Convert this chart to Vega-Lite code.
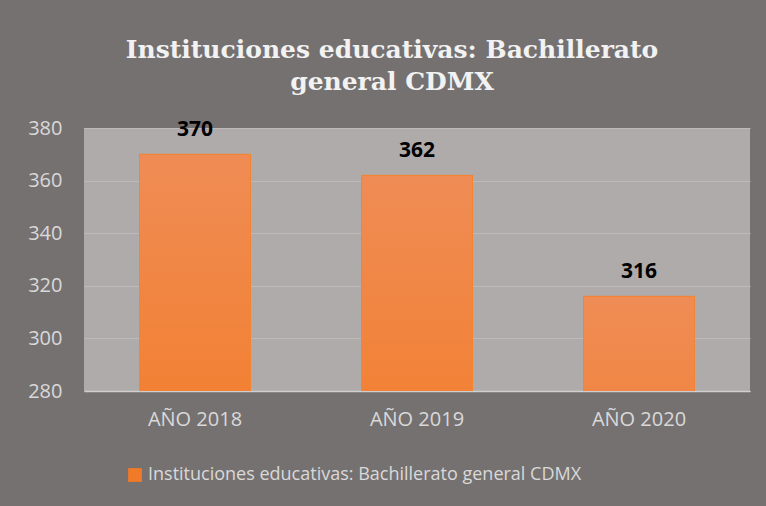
{
  "$schema": "https://vega.github.io/schema/vega-lite/v6.json",
  "autosize": {"type": "none"},
  "width": 666,
  "height": 263,
  "padding": {"left": 84, "top": 128, "right": 16, "bottom": 115},
  "background": "#767171",
  "title": {
    "text": ["Instituciones educativas: Bachillerato", "general CDMX"],
    "font": "DejaVu Serif",
    "fontWeight": "bold",
    "fontSize": 25,
    "lineHeight": 32,
    "color": "#F2F2F2",
    "anchor": "middle",
    "frame": "group",
    "dx": -25,
    "offset": 23
  },
  "data": {
    "values": [
      {"anio": "AÑO 2018", "valor": 370, "serie": "Instituciones educativas: Bachillerato general CDMX"},
      {"anio": "AÑO 2019", "valor": 362, "serie": "Instituciones educativas: Bachillerato general CDMX"},
      {"anio": "AÑO 2020", "valor": 316, "serie": "Instituciones educativas: Bachillerato general CDMX"}
    ]
  },
  "encoding": {
    "x": {
      "field": "anio",
      "type": "nominal",
      "sort": null,
      "scale": {"paddingInner": 0.5, "paddingOuter": 0.25},
      "axis": {
        "title": null,
        "labelAngle": 0,
        "labelFont": "Open Sans",
        "labelFontSize": 20,
        "labelColor": "#D9D9D9",
        "labelPadding": 18,
        "ticks": false,
        "domainColor": "#D0CECE",
        "domainWidth": 1.5
      }
    },
    "y": {
      "field": "valor",
      "type": "quantitative",
      "scale": {"domain": [280, 380], "zero": false, "nice": false},
      "axis": {
        "title": null,
        "values": [280, 300, 320, 340, 360, 380],
        "labelFont": "Open Sans",
        "labelFontSize": 20,
        "labelColor": "#D9D9D9",
        "labelPadding": 22,
        "ticks": false,
        "domain": false,
        "gridColor": "#BEBABA",
        "gridWidth": 1
      }
    }
  },
  "layer": [
    {
      "mark": {"type": "bar", "clip": true},
      "encoding": {
        "color": {
          "field": "serie",
          "type": "nominal",
          "scale": {"range": ["#F07A28"]},
          "legend": {
            "title": null,
            "orient": "none",
            "legendX": 42,
            "legendY": 338,
            "padding": 0,
            "symbolType": "square",
            "symbolSize": 190,
            "symbolStrokeWidth": 0,
            "labelFont": "Open Sans",
            "labelFontSize": 18,
            "labelColor": "#D9D9D9",
            "labelLimit": 700,
            "labelOffset": 4
          }
        }
      }
    },
    {
      "mark": {
        "type": "bar",
        "clip": true,
        "stroke": "#F4842F",
        "strokeWidth": 1,
        "fill": {
          "gradient": "linear",
          "x1": 0, "y1": 0, "x2": 0, "y2": 1,
          "stops": [
            {"offset": 0, "color": "#EF8C55"},
            {"offset": 0.4, "color": "#F47A1F"},
            {"offset": 1, "color": "#DE6010"}
          ]
        }
      }
    },
    {
      "mark": {
        "type": "text",
        "font": "Open Sans",
        "fontWeight": "bold",
        "fontSize": 21,
        "color": "#000000",
        "baseline": "alphabetic",
        "dy": -18
      },
      "encoding": {"text": {"field": "valor", "type": "quantitative"}}
    }
  ],
  "config": {"view": {"fill": "#AFABAB", "stroke": null}}
}
